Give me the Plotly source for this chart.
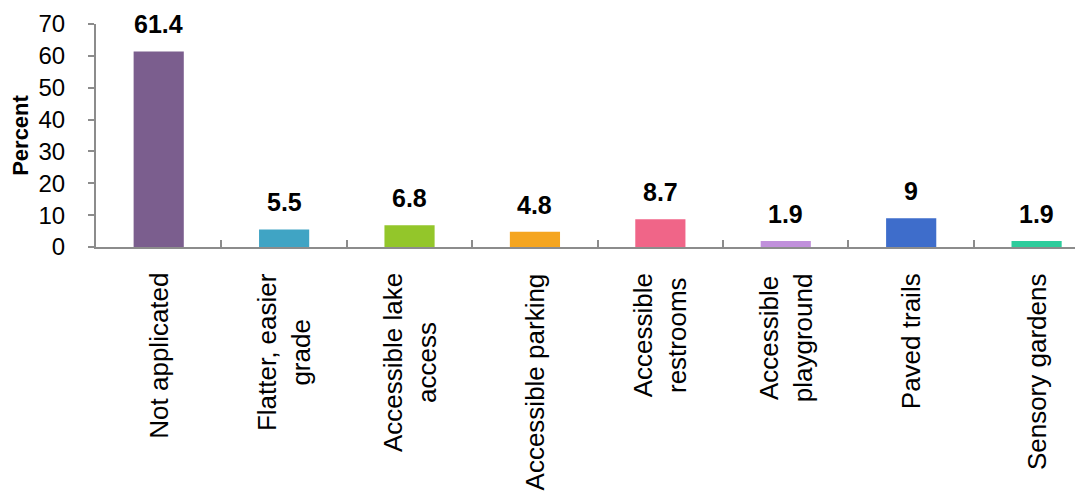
import plotly.graph_objects as go

categories = ["Not applicated", "Flatter, easier<br>grade", "Accessible lake<br>access",
              "Accessible parking", "Accessible<br>restrooms", "Accessible<br>playground",
              "Paved trails", "Sensory gardens"]
values = [61.4, 5.5, 6.8, 4.8, 8.7, 1.9, 9, 1.9]
value_labels = ["61.4", "5.5", "6.8", "4.8", "8.7", "1.9", "9", "1.9"]
colors = ["#7B5E8E", "#40A4C4", "#93C62A", "#F5A51F", "#F06588", "#C090DB", "#3E6DCB", "#2ECC9C"]
y_ticks = [0, 10, 20, 30, 40, 50, 60, 70]

axis_grey = "#8C8C8C"
FONT = "Liberation Sans, Arial"

fig = go.Figure()
fig.add_trace(go.Bar(x=categories, y=values, marker=dict(color=colors, line=dict(width=0)),
                     width=0.4, showlegend=False))

for c, v, t in zip(categories, values, value_labels):
    fig.add_annotation(x=c, y=v, text="<b>%s</b>" % t, showarrow=False, yanchor="bottom",
                       yshift=11, font=dict(family=FONT, size=25, color="#000000"))

# category labels (rotated, centred lines)
for c in categories:
    fig.add_annotation(x=c, y=0, yref="y", text=c, showarrow=False, textangle=-90,
                       xanchor="center", yanchor="top", align="center", yshift=-24,
                       font=dict(family=FONT, size=26, color="#000000"))

fig.update_layout(
    width=1083, height=493,
    margin=dict(l=88, r=8, t=16, b=254),
    paper_bgcolor="white", plot_bgcolor="white",
    font=dict(family=FONT, color="#000000"),
)
fig.update_xaxes(
    type="category", range=[-0.5, 7.37], automargin=False,
    showline=True, linecolor=axis_grey, linewidth=2,
    tickson="boundaries", ticks="inside", ticklen=7, tickwidth=2, tickcolor=axis_grey,
    showticklabels=False, showgrid=False, zeroline=False,
)
fig.update_yaxes(
    range=[0, 70], tickvals=y_ticks, automargin=False,
    showline=True, linecolor=axis_grey, linewidth=2,
    ticks="outside", ticklen=6, tickwidth=2, tickcolor=axis_grey,
    tickfont=dict(size=24, color="#000000"), ticklabelstandoff=18,
    showgrid=False, zeroline=False,
    title=dict(text="<b>Percent</b>", font=dict(size=22, color="#000000"), standoff=7),
)

fig.write_html("out.html")
